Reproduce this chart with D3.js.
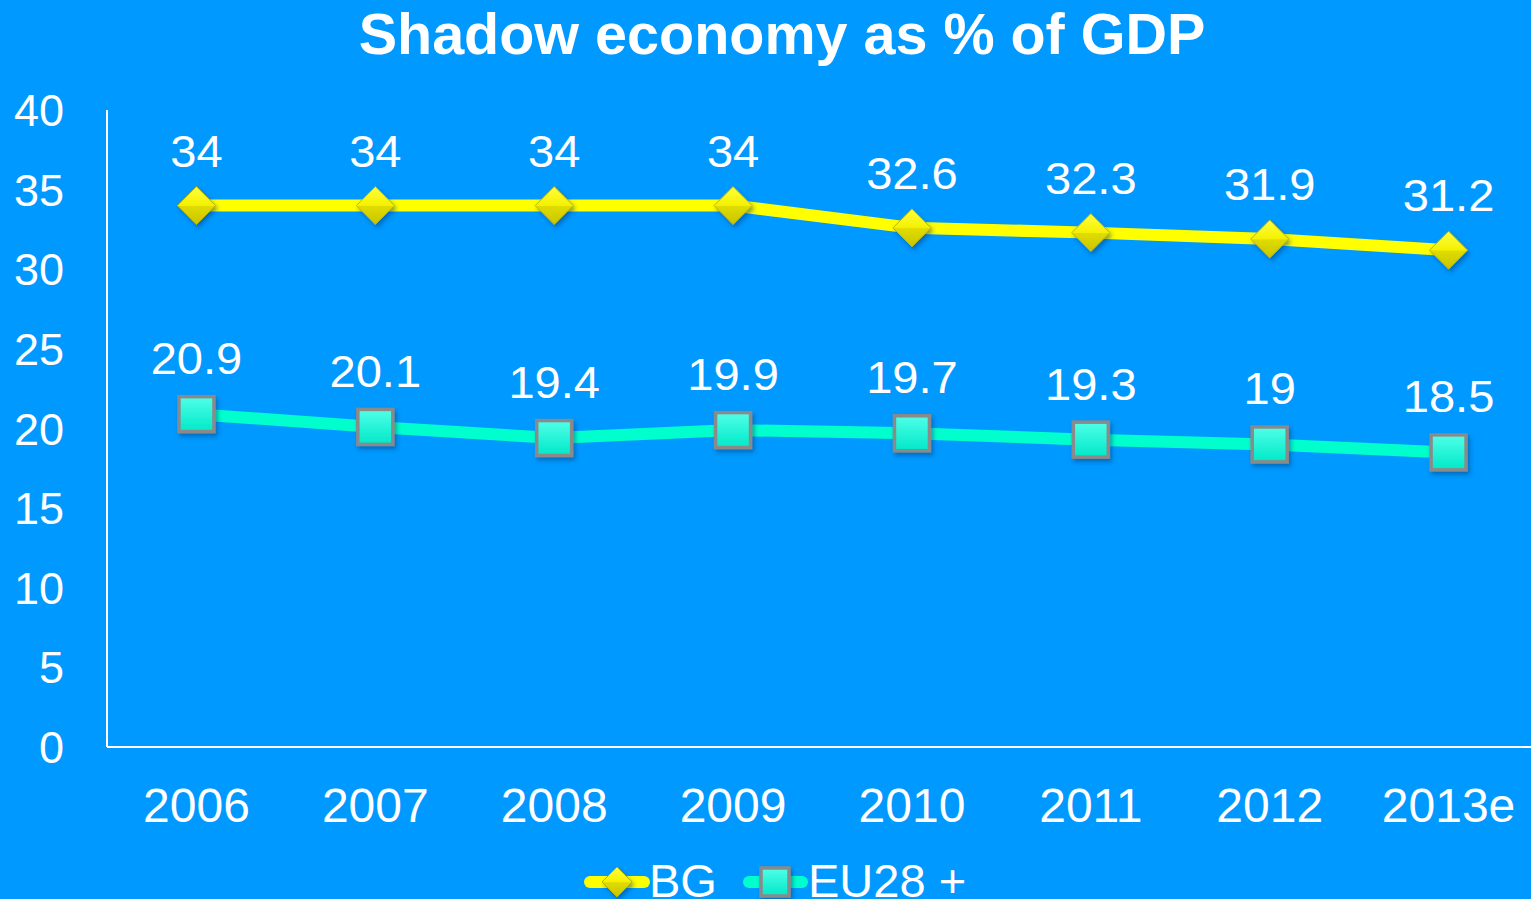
<!DOCTYPE html>
<html>
<head>
<meta charset="utf-8">
<script src="https://cdn.jsdelivr.net/npm/d3@7"></script>
<style>
  html, body { margin: 0; padding: 0; background: #0099ff; overflow: hidden; }
</style>
</head>
<body>
<div id="chart"></div>
<script>
var years = ['2006', '2007', '2008', '2009', '2010', '2011', '2012', '2013e'];
var bgValues = [34, 34, 34, 34, 32.6, 32.3, 31.9, 31.2];
var euValues = [20.9, 20.1, 19.4, 19.9, 19.7, 19.3, 19, 18.5];
var yTicks = [0, 5, 10, 15, 20, 25, 30, 35, 40];
var seriesNames = ['BG', 'EU28 +'];

var width = 1531, height = 899;
var font = 'Liberation Sans, Arial, sans-serif';

var svg = d3.select('#chart').append('svg')
  .attr('width', width)
  .attr('height', height);

var defs = svg.append('defs');

// diamond gradient (yellow, shaded lower half)
var dg = defs.append('linearGradient').attr('id', 'diamondGrad')
  .attr('x1', 0).attr('x2', 0).attr('y1', 0).attr('y2', 1);
dg.append('stop').attr('offset', '0%').attr('stop-color', '#ffff40');
dg.append('stop').attr('offset', '50%').attr('stop-color', '#f4f000');
dg.append('stop').attr('offset', '52%').attr('stop-color', '#e0dc00');
dg.append('stop').attr('offset', '100%').attr('stop-color', '#c8c400');

var sg = defs.append('linearGradient').attr('id', 'squareGrad')
  .attr('x1', 0).attr('x2', 0).attr('y1', 0).attr('y2', 1);
sg.append('stop').attr('offset', '0%').attr('stop-color', '#50ffe8');
sg.append('stop').attr('offset', '100%').attr('stop-color', '#00e8c8');

var sh = defs.append('filter').attr('id', 'shadow')
  .attr('x', '-30%').attr('y', '-30%').attr('width', '160%').attr('height', '160%');
sh.append('feDropShadow').attr('dx', 2).attr('dy', 3).attr('stdDeviation', 2)
  .attr('flood-color', '#003070').attr('flood-opacity', 0.45);

svg.append('rect').attr('width', width).attr('height', height).attr('fill', '#0099ff');

// text helper: some of the original texts are a bit stretched sideways
function label(g, tx, ty, str, size, sx, anchor) {
  return g.append('text')
    .attr('transform', 'translate(' + tx + ',' + ty + ') scale(' + sx + ',1)')
    .attr('text-anchor', anchor || 'middle')
    .attr('font-family', font)
    .attr('font-size', size)
    .attr('fill', '#fff')
    .text(str);
}

// title
label(svg, 782, 54, 'Shadow economy as % of GDP', 57.5, 1, 'middle')
  .attr('font-weight', 'bold');

var x = d3.scaleBand().domain(years).range([107, 1538]);
var y = d3.scaleLinear().domain([0, 40]).range([747, 110]);
var cx = function(i){ return x(years[i]) + x.bandwidth()/2; };

// axes
svg.append('line').attr('x1', 107).attr('x2', 107).attr('y1', 110).attr('y2', 747)
  .attr('stroke', '#fff').attr('stroke-width', 2);
svg.append('line').attr('x1', 107).attr('x2', width).attr('y1', 747).attr('y2', 747)
  .attr('stroke', '#fff').attr('stroke-width', 2);

var yAxis = svg.append('g');
yTicks.forEach(function(d){
  label(yAxis, 64, y(d) + 16, d, 45, 1, 'end');
});

var xAxis = svg.append('g');
years.forEach(function(d, i){
  label(xAxis, cx(i), 822, d, 48, 1, 'middle');
});

var line = d3.line()
  .x(function(d, i){ return cx(i); })
  .y(function(d){ return y(d); });

function diamond(g, px, py, r) {
  g.append('path')
    .attr('d', 'M' + px + ',' + (py - r) + 'L' + (px + r) + ',' + py + 'L' + px + ',' + (py + r) + 'L' + (px - r) + ',' + py + 'Z')
    .attr('fill', 'url(#diamondGrad)')
    .attr('stroke', '#b8b400')
    .attr('stroke-width', 1)
    .attr('filter', 'url(#shadow)');
}

function square(g, px, py, s) {
  g.append('rect')
    .attr('x', px - s/2).attr('y', py - s/2)
    .attr('width', s).attr('height', s)
    .attr('fill', 'url(#squareGrad)')
    .attr('stroke', '#8a8a8a')
    .attr('stroke-width', 3.5)
    .attr('filter', 'url(#shadow)');
}

// EU line
svg.append('path').datum(euValues)
  .attr('d', line)
  .attr('fill', 'none')
  .attr('stroke', '#00ffcc')
  .attr('stroke-width', 12);

// BG line
svg.append('path').datum(bgValues)
  .attr('d', line)
  .attr('fill', 'none')
  .attr('stroke', '#ffff00')
  .attr('stroke-width', 12);

var markers = svg.append('g');
bgValues.forEach(function(v, i){ diamond(markers, cx(i), y(v), 19); });
euValues.forEach(function(v, i){ square(markers, cx(i), y(v), 35); });

// data labels
var labels = svg.append('g');
bgValues.forEach(function(v, i){ label(labels, cx(i), y(v) - 39, v, 44, 1.07); });
euValues.forEach(function(v, i){ label(labels, cx(i), y(v) - 40, v, 44, 1.07); });

// legend
var leg = svg.append('g');
leg.append('line').attr('x1', 590).attr('x2', 644).attr('y1', 882).attr('y2', 882)
  .attr('stroke', '#ffff00').attr('stroke-width', 12).attr('stroke-linecap', 'round');
diamond(leg, 617, 882, 15);
label(leg, 649, 897, seriesNames[0], 47, 1, 'start');
leg.append('line').attr('x1', 749).attr('x2', 802).attr('y1', 882).attr('y2', 882)
  .attr('stroke', '#00ffcc').attr('stroke-width', 12).attr('stroke-linecap', 'round');
square(leg, 775, 882, 28);
label(leg, 808, 897, seriesNames[1], 47, 1, 'start');
</script>
</body>
</html>
